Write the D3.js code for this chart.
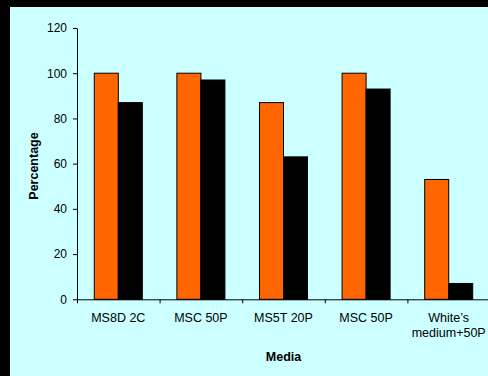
<!DOCTYPE html>
<html><head><meta charset="utf-8">
<script src="https://cdn.jsdelivr.net/npm/d3@7"></script>
<style>
html,body{margin:0;padding:0;background:#000;}
svg{display:block;}
text{font-family:"Liberation Sans",Arial,sans-serif;fill:#000;}
</style></head>
<body><svg id="c" width="488" height="376"></svg>
<script>
const categories = ["MS8D 2C","MSC 50P","MS5T 20P","MSC 50P","White\u2019s\nmedium+50P"];
const seriesA = [100,100,87,100,53];
const seriesB = [87,97,63,93,7];
const yTicks = [0,20,40,60,80,100,120];
const seriesNames = ["A","B"];
const colors = {A:"#FF6600",B:"#000000"};

(function(){
const svg = d3.select("#c");
svg.append("rect").attr("x",0).attr("y",0).attr("width",488).attr("height",376).attr("fill","#000");
svg.append("rect").attr("x",10).attr("y",7).attr("width",478).attr("height",369).attr("fill","#CCFFFF");

const pLeft=77, pRight=490, pTop=28, pBottom=299.3;
const y = d3.scaleLinear().domain([0,120]).range([pBottom,pTop]);
const idx = categories.map((d,i)=>i);
const x0 = d3.scaleBand().domain(idx).range([pLeft,pRight]).paddingInner(0).paddingOuter(0);
const x1 = d3.scaleBand().domain(seriesNames).range([0,x0.bandwidth()]).paddingInner(0).paddingOuter(0.72);
const data = idx.map(i=>({i, A:seriesA[i], B:seriesB[i]}));

const g = svg.append("g");
g.selectAll("g.grp").data(data).join("g").attr("class","grp")
 .attr("transform",d=>`translate(${x0(d.i)},0)`)
 .selectAll("rect").data(d=>seriesNames.map(k=>({k,v:d[k]}))).join("rect")
 .attr("x",d=>x1(d.k)).attr("width",x1.bandwidth())
 .attr("y",d=>y(d.v)).attr("height",d=>y(0)-y(d.v))
 .attr("fill",d=>colors[d.k]).attr("stroke","#000").attr("stroke-width",1);

const ya = svg.append("g").attr("transform",`translate(${pLeft},0)`)
 .call(d3.axisLeft(y).tickValues(yTicks).tickSize(4).tickPadding(6).tickSizeOuter(0));
ya.selectAll("text").style("font-size","12px").style("font-family","Liberation Sans, Arial, sans-serif").attr("fill","#000");
ya.selectAll("line,path").attr("stroke","#000");

const xb = d3.scaleLinear().domain([0,categories.length]).range([pLeft,pRight]);
const xa = svg.append("g").attr("transform",`translate(0,${pBottom})`)
 .call(d3.axisBottom(xb).tickValues(d3.range(categories.length+1)).tickSize(4).tickFormat("").tickSizeOuter(0));
xa.selectAll("line,path").attr("stroke","#000");

const lab = svg.append("g").selectAll("text").data(idx).join("text")
 .attr("x",i=>x0(i)+x0.bandwidth()/2).attr("y",pBottom+22.5)
 .attr("text-anchor","middle").style("font-size","12.5px");
lab.each(function(i){
  const lines = categories[i].split("\n");
  d3.select(this).selectAll("tspan").data(lines).join("tspan")
   .attr("x",x0(i)+x0.bandwidth()/2).attr("dy",(d,j)=>j===0?0:15.6).text(d=>d);
});

svg.append("text").attr("x",(pLeft+pRight)/2).attr("y",361).attr("text-anchor","middle")
 .style("font-size","12.5px").style("font-weight","bold").text("Media");
svg.append("text").attr("transform","translate(37.5,166) rotate(-90)").attr("text-anchor","middle")
 .style("font-size","12.5px").style("font-weight","bold").text("Percentage");
})();
</script></body></html>
